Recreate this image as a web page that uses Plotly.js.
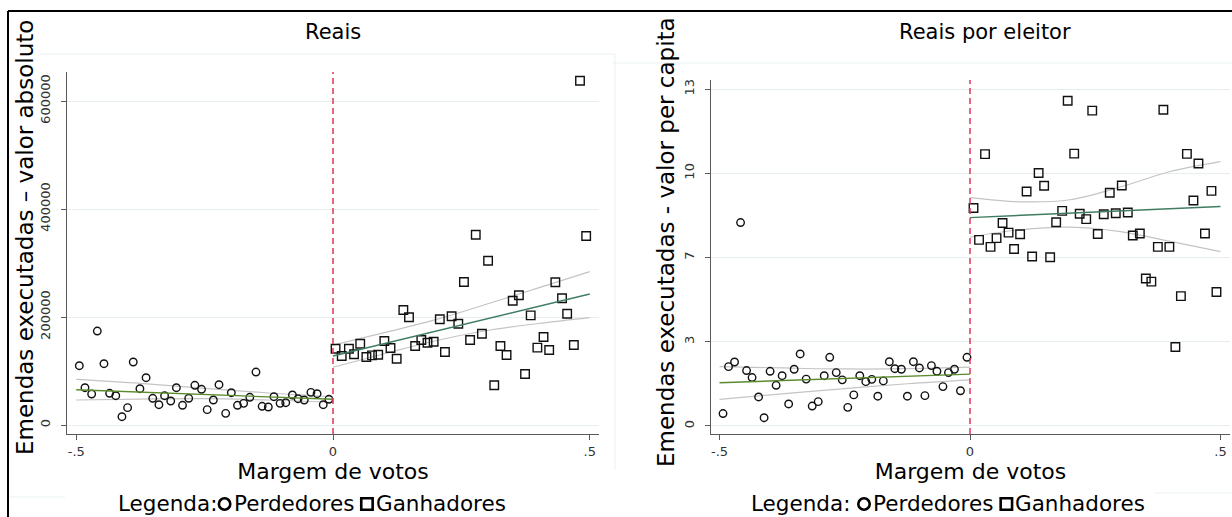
<!DOCTYPE html>
<html>
<head>
<meta charset="utf-8">
<script src="https://cdn.plot.ly/plotly-3.0.1.min.js"></script>
<style>html,body{margin:0;padding:0;background:#fff;}#chart{width:1232px;height:517px;}</style>
</head>
<body>
<div id="chart"></div>
<script>
// ---------- Data: left panel (Reais) ----------
const loserX_abs = [-0.494,-0.483,-0.470,-0.459,-0.446,-0.435,-0.423,-0.411,-0.400,-0.389,-0.376,-0.364,-0.351,-0.339,-0.328,-0.316,-0.305,-0.293,-0.281,-0.269,-0.256,-0.245,-0.233,-0.222,-0.209,-0.198,-0.186,-0.174,-0.162,-0.150,-0.138,-0.126,-0.115,-0.103,-0.092,-0.079,-0.068,-0.056,-0.043,-0.031,-0.019,-0.008];
const loserY_abs = [109800,69100,57400,174000,113500,58700,54300,15400,32100,116700,67200,87600,49400,37600,54300,44400,69100,36500,49400,73500,66100,28400,46300,74600,21600,59800,36500,40100,51300,98100,34600,33300,52400,40100,41300,55600,48700,46300,60500,58000,37600,47600];
const winnerX_abs = [0.005,0.017,0.031,0.041,0.053,0.065,0.076,0.088,0.100,0.112,0.124,0.137,0.148,0.160,0.172,0.184,0.196,0.208,0.218,0.231,0.244,0.255,0.267,0.278,0.290,0.302,0.314,0.326,0.338,0.350,0.362,0.374,0.385,0.398,0.410,0.421,0.433,0.446,0.456,0.469,0.481,0.493];
const winnerY_abs = [141300,127800,141300,130900,150600,125900,129000,130200,155600,142600,122800,213000,199400,146300,157400,152400,154300,195700,135200,201300,187600,264800,157400,352400,169100,304300,73500,146300,129600,230200,240200,94400,203100,143200,163000,138900,264300,234600,206100,148100,637600,350000];
// fitted lines and confidence bands
const loserFitX_abs = [-0.5,0];
const loserFitY_abs = [65400,47600];
const loserBandX_abs = [-0.5,-0.375,-0.25,-0.125,0];
const loserUpper_abs = [84600,77200,68000,59300,52400];
const loserLower_abs = [46300,48100,48800,46300,42000];
const winnerFitX_abs = [0,0.5];
const winnerFitY_abs = [127800,242600];
const winnerBandX_abs = [0,0.1,0.2,0.3,0.4,0.5];
const winnerUpper_abs = [148000,171000,195000,224000,254000,284000];
const winnerLower_abs = [107000,132000,156000,175000,188000,199000];

// ---------- Data: right panel (Reais por eleitor) ----------
const loserX_pc = [-0.493,-0.482,-0.470,-0.458,-0.446,-0.435,-0.422,-0.411,-0.399,-0.387,-0.375,-0.362,-0.351,-0.339,-0.327,-0.315,-0.303,-0.291,-0.280,-0.267,-0.255,-0.244,-0.232,-0.220,-0.208,-0.196,-0.184,-0.173,-0.161,-0.150,-0.137,-0.125,-0.113,-0.101,-0.090,-0.077,-0.066,-0.054,-0.043,-0.031,-0.019,-0.006];
const loserY_pc = [0.48,2.29,2.47,7.85,2.14,1.87,1.12,0.32,2.11,1.57,1.94,0.85,2.19,2.78,1.81,0.77,0.94,1.94,2.65,2.06,1.78,0.72,1.20,1.94,1.71,1.80,1.15,1.74,2.48,2.21,2.19,1.15,2.48,2.24,1.17,2.33,2.11,1.52,2.06,2.19,1.36,2.65];
const winnerX_pc = [0.007,0.018,0.030,0.041,0.053,0.065,0.077,0.088,0.100,0.113,0.124,0.137,0.148,0.160,0.172,0.184,0.195,0.208,0.219,0.232,0.244,0.255,0.267,0.279,0.291,0.303,0.315,0.325,0.339,0.351,0.362,0.375,0.386,0.398,0.410,0.421,0.433,0.446,0.456,0.469,0.482,0.492];
const winnerY_pc = [8.41,7.18,10.49,6.91,7.25,7.83,7.46,6.83,7.40,9.05,6.54,9.76,9.27,6.51,7.86,8.30,12.55,10.51,8.19,7.98,12.17,7.41,8.17,9.00,8.21,9.28,8.24,7.35,7.43,5.69,5.57,6.91,12.20,6.91,3.05,5.01,10.50,8.70,10.13,7.43,9.07,5.17];
const loserFitX_pc = [-0.5,0];
const loserFitY_pc = [1.67,2.00];
const loserBandX_pc = [-0.5,-0.375,-0.25,-0.125,0];
const loserUpper_pc = [2.29,2.24,2.20,2.21,2.27];
const loserLower_pc = [1.03,1.24,1.44,1.63,1.78];
const winnerFitX_pc = [0,0.5];
const winnerFitY_pc = [8.04,8.47];
const winnerBandX_pc = [0,0.1,0.2,0.3,0.4,0.5];
const winnerUpper_pc = [8.81,8.65,8.73,9.22,9.82,10.20];
const winnerLower_pc = [7.29,7.57,7.67,7.50,7.12,6.73];

// ---------- Tick labels ----------
const xTickVals = [-0.5,0,0.5];
const xTickText = ['-.5','0','.5'];
const yTickVals_abs = [0,200000,400000,600000];
const yTickText_abs = ['0','200000','400000','600000'];
const yTickVals_pc = [0,3.25,6.5,9.75,13];
const yTickText_pc = ['0','3','7','10','13'];

// ---------- Text ----------
const titleLeft = 'Reais';
const titleRight = 'Reais por eleitor';
const yTitleLeft = 'Emendas executadas \u2013 valor absoluto';
const yTitleRight = 'Emendas executadas - valor per capita';
const xTitle = 'Margem de votos';
const legendText = ['Legenda:', 'Perdedores', 'Ganhadores'];

// ---------- Styles ----------
const FONT = 'DejaVu Sans, Verdana, sans-serif';
const ciColor = '#c4c4c4';
const loserFitColor = '#5a8a2c';
const winnerFitColor = '#3f7d62';
const gridColor = '#e6eef0';
const axisColor = '#5a5a5a';

function pts(x, y, sym, xa, ya, name) {
  return {x: x, y: y, xaxis: xa, yaxis: ya, type: 'scatter', mode: 'markers', name: name, showlegend: false,
    marker: {symbol: sym, size: sym === 'circle-open' ? 7.5 : 8.5, color: '#111', line: {width: 1.4, color: '#111'}},
    hoverinfo: 'x+y'};
}
function ln(x, y, color, xa, ya, spline, w) {
  return {x: x, y: y, xaxis: xa, yaxis: ya, type: 'scatter', mode: 'lines', showlegend: false,
    line: {color: color, width: w || 1.2, shape: spline ? 'spline' : 'linear'}, hoverinfo: 'skip'};
}

const data = [
  ln(loserBandX_abs, loserUpper_abs, ciColor, 'x', 'y', true),
  ln(loserBandX_abs, loserLower_abs, ciColor, 'x', 'y', true),
  ln(winnerBandX_abs, winnerUpper_abs, ciColor, 'x', 'y', true),
  ln(winnerBandX_abs, winnerLower_abs, ciColor, 'x', 'y', true),
  pts(loserX_abs, loserY_abs, 'circle-open', 'x', 'y', 'Perdedores'),
  pts(winnerX_abs, winnerY_abs, 'square-open', 'x', 'y', 'Ganhadores'),
  ln(loserFitX_abs, loserFitY_abs, loserFitColor, 'x', 'y', false, 1.4),
  ln(winnerFitX_abs, winnerFitY_abs, winnerFitColor, 'x', 'y', false, 1.4),

  ln(loserBandX_pc, loserUpper_pc, ciColor, 'x2', 'y2', true),
  ln(loserBandX_pc, loserLower_pc, ciColor, 'x2', 'y2', true),
  ln(winnerBandX_pc, winnerUpper_pc, ciColor, 'x2', 'y2', true),
  ln(winnerBandX_pc, winnerLower_pc, ciColor, 'x2', 'y2', true),
  pts(loserX_pc, loserY_pc, 'circle-open', 'x2', 'y2', 'Perdedores'),
  pts(winnerX_pc, winnerY_pc, 'square-open', 'x2', 'y2', 'Ganhadores'),
  ln(loserFitX_pc, loserFitY_pc, loserFitColor, 'x2', 'y2', false, 1.4),
  ln(winnerFitX_pc, winnerFitY_pc, winnerFitColor, 'x2', 'y2', false, 1.4)
];

const W = 1232, H = 517;
const px = v => v / W;
const py = v => 1 - v / H;

function xax(domain, anchor, range) {
  return {domain: domain, anchor: anchor, range: range, tickvals: xTickVals, ticktext: xTickText,
    showgrid: false, zeroline: false, showline: true, linecolor: axisColor, linewidth: 1,
    ticks: 'outside', ticklen: 5, tickcolor: axisColor, tickfont: {family: FONT, size: 13, color: '#333'},
    title: {text: xTitle, font: {family: FONT, size: 22, color: '#000'}, standoff: 4}, automargin: false};
}
function yax(domain, anchor, range, tv, tt) {
  return {domain: domain, anchor: anchor, range: range, tickvals: tv, ticktext: tt, tickangle: -90,
    showgrid: true, gridcolor: gridColor, gridwidth: 1, zeroline: false, showline: true, linecolor: axisColor, linewidth: 1,
    ticks: 'outside', ticklen: 5, tickcolor: axisColor, tickfont: {family: FONT, size: 13, color: '#333'},
    ticklabelstandoff: 6, automargin: false};
}
function yTitleAnn(text, x, y) {
  return {text: text, xref: 'paper', yref: 'paper', x: px(x), y: py(y), xanchor: 'center', yanchor: 'middle',
    textangle: -90, showarrow: false, font: {family: FONT, size: 23, color: '#000'}};
}

// Legend built from text pieces and hollow symbols (measured with canvas)
const LEG_FS = 21.5;
const measureCtx = document.createElement('canvas').getContext('2d');
measureCtx.font = LEG_FS + 'px "DejaVu Sans"';
const tw = s => measureCtx.measureText(s).width;
function legendParts(centerX, centerY, sep) {
  const SYM = 14, g1 = 1, g2 = 1, g3 = 7;
  const t0 = legendText[0] + sep, t1 = legendText[1], t2 = legendText[2];
  const total = tw(t0) + g1 + SYM + g2 + tw(t1) + g3 + SYM + g2 + tw(t2);
  let x = centerX - total / 2;
  const anns = [], shps = [];
  const txt = (s, xx) => anns.push({text: s, xref: 'paper', yref: 'paper', x: px(xx), y: py(centerY), xanchor: 'left', yanchor: 'middle',
    borderpad: 0, showarrow: false, font: {family: FONT, size: LEG_FS, color: '#000'}});
  const symY = centerY + 0.5;
  const ins = 1.3;
  txt(t0, x); x += tw(t0) + g1;
  shps.push({type: 'circle', xref: 'paper', yref: 'paper', x0: px(x + ins), x1: px(x + SYM - ins), y0: py(symY + SYM / 2 - ins), y1: py(symY - SYM / 2 + ins), line: {color: '#000', width: 2.6}});
  x += SYM + g2;
  txt(t1, x); x += tw(t1) + g3;
  shps.push({type: 'rect', xref: 'paper', yref: 'paper', x0: px(x + ins), x1: px(x + SYM - ins), y0: py(symY + SYM / 2 - ins), y1: py(symY - SYM / 2 + ins), line: {color: '#000', width: 2.6}});
  x += SYM + g2;
  txt(t2, x);
  return {anns: anns, shps: shps};
}
const legL = legendParts(311, 503.5, '');
const legR = legendParts(947, 503.5, ' ');

const layout = {
  width: W, height: H,
  margin: {l: 0, r: 0, t: 0, b: 0},
  paper_bgcolor: '#fff', plot_bgcolor: '#fff',
  showlegend: false,
  xaxis: xax([px(67), px(599)], 'y', [-0.518, 0.518]),
  yaxis: yax([py(434), py(72)], 'x', [-16667, 653700], yTickVals_abs, yTickText_abs),
  xaxis2: xax([px(711), px(1230)], 'y2', [-0.517, 0.519]),
  yaxis2: yax([py(434), py(80)], 'x2', [-0.309, 13.35], yTickVals_pc, yTickText_pc),
  shapes: [
    {type: 'line', xref: 'x', yref: 'y domain', x0: 0, x1: 0, y0: 0, y1: 1, line: {color: '#e0345a', width: 1.5, dash: '6px,4px'}},
    {type: 'line', xref: 'x2', yref: 'y2 domain', x0: 0, x1: 0, y0: 0, y1: 1, line: {color: '#e0345a', width: 1.5, dash: '6px,4px'}},
    // outer frame (top and left)
    {type: 'line', xref: 'paper', yref: 'paper', x0: px(8), x1: 1, y0: py(11), y1: py(11), line: {color: '#000', width: 2}},
    {type: 'line', xref: 'paper', yref: 'paper', x0: px(8), x1: px(8), y0: py(11), y1: 0, line: {color: '#000', width: 2}},
    // faint plot-region outlines
    {type: 'line', xref: 'paper', yref: 'paper', x0: px(40), x1: px(615), y0: py(54), y1: py(54), line: {color: '#eaf1f3', width: 1}},
    {type: 'line', xref: 'paper', yref: 'paper', x0: px(615), x1: px(615), y0: py(54), y1: py(470), line: {color: '#eaf1f3', width: 1}},
    {type: 'line', xref: 'paper', yref: 'paper', x0: px(612), x1: 1, y0: py(63), y1: py(63), line: {color: '#eaf1f3', width: 1}},
    {type: 'line', xref: 'paper', yref: 'paper', x0: px(1155), x1: 1, y0: py(493), y1: py(493), line: {color: '#eaf1f3', width: 1}},
    {type: 'line', xref: 'paper', yref: 'paper', x0: px(10), x1: px(65), y0: py(497), y1: py(497), line: {color: '#eaf1f3', width: 1}}
  ].concat(legL.shps, legR.shps),
  annotations: [
    {text: titleLeft, xref: 'paper', yref: 'paper', x: px(333), y: py(32), xanchor: 'center', yanchor: 'middle', showarrow: false, font: {family: FONT, size: 21, color: '#000'}},
    {text: titleRight, xref: 'paper', yref: 'paper', x: px(985), y: py(32), xanchor: 'center', yanchor: 'middle', showarrow: false, font: {family: FONT, size: 21, color: '#000'}},
    yTitleAnn(yTitleLeft, 25, 238),
    yTitleAnn(yTitleRight, 666, 242)
  ].concat(legL.anns, legR.anns)
};

Plotly.newPlot('chart', data, layout, {displayModeBar: false, staticPlot: true});
</script>
</body>
</html>
